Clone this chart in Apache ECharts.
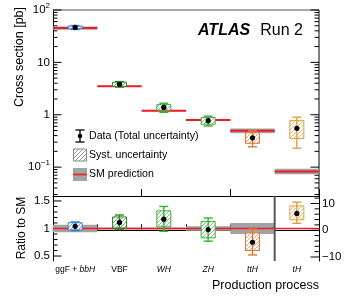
<!DOCTYPE html>
<html><head><meta charset="utf-8">
<script src="https://cdn.jsdelivr.net/npm/echarts@6/dist/echarts.min.js"></script>
<style>html,body{margin:0;padding:0;background:#fff}#c{width:355px;height:300px}</style>
</head><body><div id="c"></div>
<script>
// ---------- data ----------
const categories = ['ggF + bbH', 'VBF', 'WH', 'ZH', 'ttH', 'tH'];
const categoryLabels = ['ggF + {i|bbH}', 'VBF', '{i|WH}', '{i|ZH}', '{i|ttH}', '{i|tH}'];
const catColors = ['#3b82d6', '#2a8a2a', '#3aad3a', '#3aad3a', '#e0783a', '#e0a040'];

// upper panel: cross sections [pb]
const smXS    = [45.3, 3.49, 1.19, 0.79, 0.494, 0.0828];
const smRelUnc = [0.07, 0.02, 0.02, 0.04, 0.10, 0.12];
const xsData  = [46.5, 3.81, 1.38, 0.77, 0.363, 0.55];
const xsTotLo = [42.5, 3.38, 1.11, 0.61, 0.244, 0.23];
const xsTotHi = [50.5, 4.30, 1.66, 0.94, 0.494, 0.90];
const xsSysLo = [43.8, 3.48, 1.22, 0.66, 0.284, 0.35];
const xsSysHi = [49.3, 4.18, 1.56, 0.89, 0.46, 0.78];

// lower panel: ratio to SM (tH on right-hand axis)
const ratio      = [1.04, 1.11, 1.17, 0.98, 0.75, 6.3];
const ratioTotLo = [0.96, 0.98, 0.95, 0.77, 0.52, 2.6];
const ratioTotHi = [1.12, 1.245, 1.40, 1.19, 0.99, 10.5];
const ratioSysLo = [0.975, 1.01, 1.03, 0.83, 0.60, 3.9];
const ratioSysHi = [1.105, 1.21, 1.32, 1.13, 0.92, 9.1];
const ratioOnRight = [false, false, false, false, false, true];

// ticks
const logMajorTicks = [0.1, 1, 10, 100];
const logTickLabels = ['10{s|\u22121}', '1', '10', '10{s|2}'];
const logMinorTicks = [0.03,0.04,0.05,0.06,0.07,0.08,0.09,0.2,0.3,0.4,0.5,0.6,0.7,0.8,0.9,2,3,4,5,6,7,8,9,20,30,40,50,60,70,80,90];
const ratioMajorTicks = [0.5, 1, 1.5];
const ratioTickLabels = ['0.5', '1', '1.5'];
const ratioMinorTicks = [0.6,0.7,0.8,0.9,1.1,1.2,1.3,1.4];
const tHMajorTicks = [-10, 0, 10];
const tHTickLabels = ['\u221210', '0', '10'];
const tHMinorTicks = [-8,-6,-4,-2,2,4,6,8,12];

// ---------- drawing ----------
const FONT = '"Liberation Sans", Arial, Helvetica, sans-serif';
function hexA(hex, a){const n=parseInt(hex.slice(1),16);return 'rgba('+((n>>16)&255)+','+((n>>8)&255)+','+(n&255)+','+a+')';}
function hatch(color){
  const c=document.createElement('canvas'); c.width=4; c.height=4;
  const g=c.getContext('2d'); g.fillStyle='#fff'; g.fillRect(0,0,4,4);
  g.strokeStyle=color; g.lineWidth=0.9;
  g.beginPath(); g.moveTo(0,4); g.lineTo(4,0); g.moveTo(-1,1); g.lineTo(1,-1); g.moveTo(3,5); g.lineTo(5,3); g.stroke();
  return {image:c, repeat:'repeat'};
}
const patterns = catColors.map(c=>hatch(hexA(c,0.75)));
const greyPattern = hatch('rgba(120,120,120,0.8)');

const BOX_HW = 7, CAP_HW = 4.5, DOT_R = 2.6;
function measurement(api, i, yv, lo, hi, slo, shi){
  const xc = api.coord([i, yv])[0];
  const y = v => api.coord([i, v])[1];
  const col = catColors[i];
  return [
    {type:'rect', z2:10, shape:{x:xc-BOX_HW, y:y(shi), width:2*BOX_HW, height:y(slo)-y(shi)}, style:{fill:patterns[i], stroke:col, lineWidth:1}},
    {type:'line', z2:11, shape:{x1:xc, y1:y(hi), x2:xc, y2:y(lo)}, style:{stroke:col, lineWidth:1.4}},
    {type:'line', z2:11, shape:{x1:xc-CAP_HW, y1:y(hi), x2:xc+CAP_HW, y2:y(hi)}, style:{stroke:col, lineWidth:1.4}},
    {type:'line', z2:11, shape:{x1:xc-CAP_HW, y1:y(lo), x2:xc+CAP_HW, y2:y(lo)}, style:{stroke:col, lineWidth:1.4}},
    {type:'circle', z2:12, shape:{cx:xc, cy:y(yv), r:DOT_R}, style:{fill:'#000'}}
  ];
}

function renderUpper(params, api){
  const i = api.value(0);
  const half = api.size([1, 0])[0] / 2;
  const xc = api.coord([i, smXS[i]])[0];
  const ySM = api.coord([i, smXS[i]])[1];
  const yHi = api.coord([i, smXS[i]*(1+smRelUnc[i])])[1];
  const yLo = api.coord([i, smXS[i]*(1-smRelUnc[i])])[1];
  const ch = [
    {type:'rect', z2:1, shape:{x:xc-half, y:yHi, width:2*half, height:yLo-yHi}, style:{fill:'#a3a3a3'}},
    {type:'line', z2:2, shape:{x1:xc-half, y1:ySM, x2:xc+half, y2:ySM}, style:{stroke:'#ee1c24', lineWidth:2}}
  ].concat(measurement(api, i, xsData[i], xsTotLo[i], xsTotHi[i], xsSysLo[i], xsSysHi[i]));
  return {type:'group', children:ch};
}

function renderLowerLeft(params, api){
  const i = api.value(0);
  const cs = params.coordSys;
  const half = api.size([1, 0])[0] / 2;
  const xc = api.coord([i, 1])[0];
  const ch = [];
  if (i === 0) {
    const y1 = api.coord([0, 1])[1];
    ch.push({type:'line', z2:5, shape:{x1:cs.x, y1:y1, x2:cs.x+cs.width, y2:y1}, style:{stroke:'#ee1c24', lineWidth:1.6}});
  }
  if (!ratioOnRight[i]) {
    const yHi = api.coord([i, 1+smRelUnc[i]])[1];
    const yLo = api.coord([i, 1-smRelUnc[i]])[1];
    ch.push({type:'rect', z2:1, shape:{x:xc-half, y:yHi, width:2*half, height:yLo-yHi}, style:{fill:'#a3a3a3'}});
    ch.push.apply(ch, measurement(api, i, ratio[i], ratioTotLo[i], ratioTotHi[i], ratioSysLo[i], ratioSysHi[i]));
  } else {
    const xs = xc - half;
    ch.push({type:'line', z2:6, shape:{x1:xs, y1:cs.y, x2:xs, y2:cs.y+cs.height}, style:{stroke:'#555', lineWidth:2}});
  }
  return {type:'group', children:ch};
}

function renderLowerRight(params, api){
  const i = api.value(0);
  if (!ratioOnRight[i]) return {type:'group', children:[]};
  return {type:'group', children:measurement(api, i, ratio[i], ratioTotLo[i], ratioTotHi[i], ratioSysLo[i], ratioSysHi[i])};
}

function tickRenderer(opts){
  return function(params, api){
    const v = api.value(1), major = api.value(2) === 1, li = api.value(3);
    const cs = params.coordSys;
    const y = api.coord([0, v])[1];
    const len = major ? 8.5 : 4.5;
    const ch = [];
    if (opts.left) ch.push({type:'line', shape:{x1:cs.x, y1:y, x2:cs.x+len, y2:y}, style:{stroke:'#000', lineWidth:1}});
    if (opts.right) ch.push({type:'line', shape:{x1:cs.x+cs.width, y1:y, x2:cs.x+cs.width-len, y2:y}, style:{stroke:'#000', lineWidth:1}});
    if (major && opts.labels) {
      const onRight = opts.labelSide === 'right';
      ch.push({type:'text', style:{text:opts.labels[li], x: onRight ? cs.x+cs.width+3 : cs.x-3, y:y,
        align: onRight ? 'left' : 'right', verticalAlign:'middle', fill:'#000', fontSize:11.5, fontFamily:FONT,
        rich:{s:{fontSize:8, fontFamily:FONT, verticalAlign:'top', padding:[0,0,9,0], fill:'#000'}}}});
    }
    if (opts.frame && params.dataIndex === 0) {
      ch.push({type:'line', shape:{x1:cs.x, y1:cs.y, x2:cs.x+cs.width, y2:cs.y}, style:{stroke:'#8c8c8c', lineWidth:1.5}});
      ch.push({type:'line', shape:{x1:cs.x+cs.width, y1:cs.y, x2:cs.x+cs.width, y2:cs.y+cs.height}, style:{stroke:'#000', lineWidth:1}});
    }
    return {type:'group', children:ch};
  };
}
function tickData(majors, minors){
  return majors.map((v,k)=>[0, v, 1, k]).concat(minors.map(v=>[0, v, 0, -1]));
}

const axisLineBlack = {show:true, lineStyle:{color:'#000', width:1}};
const option = {
  animation:false,
  grid:[{left:53, top:10, width:266, height:186}, {left:53, top:196, width:266, height:65}],
  xAxis:[
    {type:'category', gridIndex:0, data:categories, boundaryGap:true, axisLine:axisLineBlack,
     axisTick:{show:true, inside:true, length:7, lineStyle:{color:'#000'}}, axisLabel:{show:false}, splitLine:{show:false}},
    {type:'category', gridIndex:1, data:categories, boundaryGap:true, axisLine:axisLineBlack,
     axisTick:{show:true, inside:true, length:6, interval:0, lineStyle:{color:'#000'}},
     axisLabel:{show:true, interval:0, hideOverlap:false, margin:4, color:'#000', fontSize:8.5, fontFamily:FONT,
       formatter:(v)=>categoryLabels[categories.indexOf(v)],
       rich:{i:{fontStyle:'italic', fontSize:8.5, fontFamily:FONT, color:'#000'}}},
     splitLine:{show:false}}
  ],
  yAxis:[
    {type:'log', logBase:10, gridIndex:0, min:0.0281, max:100, axisLine:axisLineBlack, axisTick:{show:false}, axisLabel:{show:false}, splitLine:{show:false}},
    {type:'value', gridIndex:1, min:0.41, max:1.59, axisLine:axisLineBlack, axisTick:{show:false}, axisLabel:{show:false}, splitLine:{show:false}},
    {type:'value', gridIndex:1, position:'right', min:-11.5, max:12.8, axisLine:axisLineBlack, axisTick:{show:false}, axisLabel:{show:false}, splitLine:{show:false}}
  ],
  series:[
    {type:'custom', xAxisIndex:0, yAxisIndex:0, renderItem:renderUpper, clip:false, silent:true,
     data:categories.map((c,i)=>[i, smXS[i]]), encode:{x:0, y:1}},
    {type:'custom', xAxisIndex:1, yAxisIndex:1, renderItem:renderLowerLeft, clip:false, silent:true,
     data:categories.map((c,i)=>[i, 1]), encode:{x:0, y:1}},
    {type:'custom', xAxisIndex:1, yAxisIndex:2, renderItem:renderLowerRight, clip:false, silent:true,
     data:categories.map((c,i)=>[i, ratio[i]]), encode:{x:0, y:1}},
    {type:'custom', xAxisIndex:0, yAxisIndex:0, silent:true, clip:false,
     renderItem:tickRenderer({left:true, right:true, labels:logTickLabels, labelSide:'left', frame:true}),
     data:tickData(logMajorTicks, logMinorTicks), encode:{x:0, y:1}},
    {type:'custom', xAxisIndex:1, yAxisIndex:1, silent:true, clip:false,
     renderItem:tickRenderer({left:true, right:false, labels:ratioTickLabels, labelSide:'left'}),
     data:tickData(ratioMajorTicks, ratioMinorTicks), encode:{x:0, y:1}},
    {type:'custom', xAxisIndex:1, yAxisIndex:2, silent:true, clip:false,
     renderItem:tickRenderer({left:false, right:true, labels:tHTickLabels, labelSide:'right'}),
     data:tickData(tHMajorTicks, tHMinorTicks), encode:{x:0, y:1}}
  ],
  graphic:[
    {type:'text', x:20, y:57, rotation:Math.PI/2, style:{text:'Cross section [pb]', fontSize:12.5, fontFamily:FONT, fill:'#000', align:'center', verticalAlign:'middle'}},
    {type:'text', x:22, y:228, rotation:Math.PI/2, style:{text:'Ratio to SM', fontSize:12, fontFamily:FONT, fill:'#000', align:'center', verticalAlign:'middle'}},
    {type:'text', x:319, y:286, style:{text:'Production process', fontSize:12.5, fontFamily:FONT, fill:'#000', align:'right', verticalAlign:'middle'}},
    {type:'text', x:198, y:31, style:{text:'ATLAS', fontSize:16, fontWeight:'bold', fontStyle:'italic', fontFamily:FONT, fill:'#000', align:'left', verticalAlign:'middle'}},
    {type:'text', x:303, y:31, style:{text:'Run 2', fontSize:16, fontFamily:FONT, fill:'#000', align:'right', verticalAlign:'middle'}},
    // legend
    {type:'line', shape:{x1:80, y1:130, x2:80, y2:142}, style:{stroke:'#000', lineWidth:1.3}},
    {type:'line', shape:{x1:75.5, y1:130, x2:84.5, y2:130}, style:{stroke:'#000', lineWidth:1.3}},
    {type:'line', shape:{x1:75.5, y1:142, x2:84.5, y2:142}, style:{stroke:'#000', lineWidth:1.3}},
    {type:'circle', shape:{cx:80, cy:136, r:2.3}, style:{fill:'#000'}},
    {type:'text', x:89, y:136, style:{text:'Data (Total uncertainty)', fontSize:10.6, fontFamily:FONT, fill:'#000', verticalAlign:'middle'}},
    {type:'rect', shape:{x:73.5, y:149, width:13, height:12}, style:{fill:greyPattern, stroke:'#888', lineWidth:1}},
    {type:'text', x:89, y:155, style:{text:'Syst. uncertainty', fontSize:10.6, fontFamily:FONT, fill:'#000', verticalAlign:'middle'}},
    {type:'rect', shape:{x:73, y:168, width:14, height:13}, style:{fill:'#a3a3a3'}},
    {type:'line', shape:{x1:73, y1:174.5, x2:87, y2:174.5}, style:{stroke:'#ee1c24', lineWidth:1.6}},
    {type:'text', x:89, y:174, style:{text:'SM prediction', fontSize:10.6, fontFamily:FONT, fill:'#000', verticalAlign:'middle'}}
  ]
};
const chart = echarts.init(document.getElementById('c'), null, {renderer:'canvas', width:355, height:300});
chart.setOption(option);
</script>
</body></html>
